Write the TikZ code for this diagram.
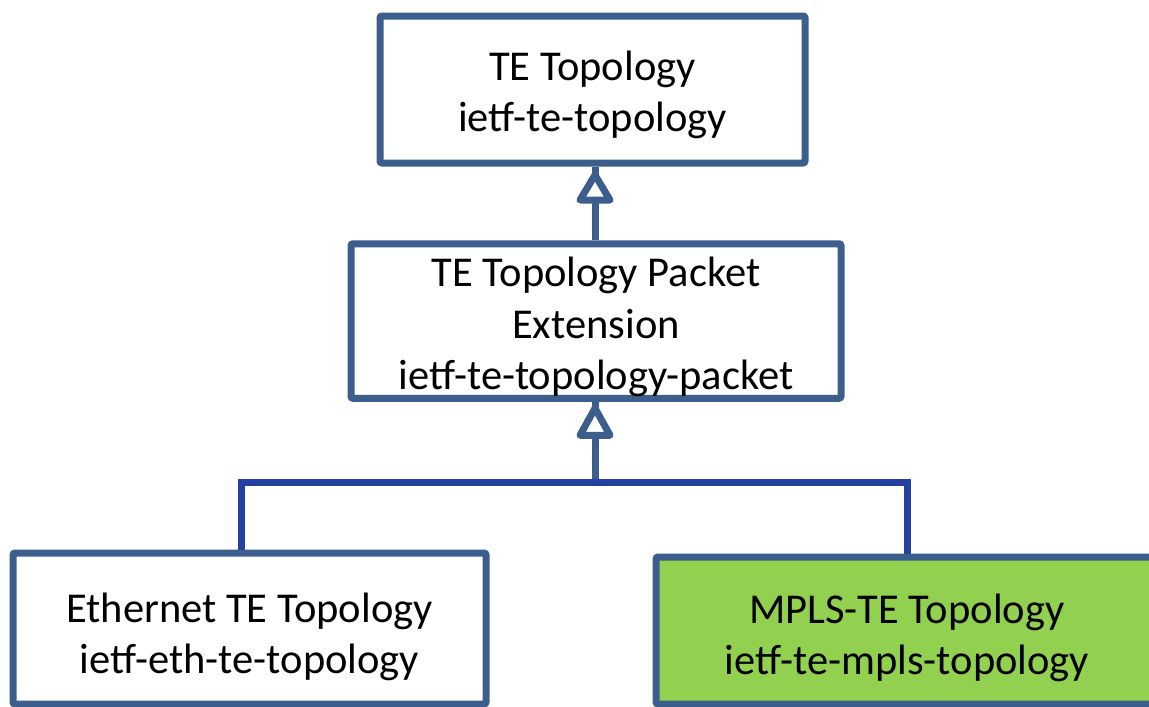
\documentclass[tikz,border=0pt]{standalone}
\usepackage{fontspec}
\setmainfont{Carlito}
\usetikzlibrary{calc,backgrounds}
\definecolor{boxline}{HTML}{3B5E8C}
\definecolor{busline}{HTML}{2440A0}
\definecolor{mplsgreen}{HTML}{92D050}
\tikzset{
  module/.style={draw=boxline, line width=7pt, rounded corners=2pt, fill=white,
    align=center, inner sep=0pt, font=\fontsize{42.5}{51.5}\selectfont},
  link/.style={draw=boxline, line width=7pt, line join=round},
  opentip/.style={link, fill=white},
  bus/.style={draw=busline, line width=7pt, line join=miter}
}
% centred text block, moved down by #1 without changing its reported size
\newcommand{\modtext}[2]{\raisebox{-#1}[\height][\depth]{\begin{tabular}{@{}c@{}}#2\end{tabular}}}
\begin{document}
\begin{tikzpicture}[x=1pt, y=-1pt]
  \useasboundingbox (0,0) rectangle (1149,707);

  % module boxes
  \node[module, minimum width=425pt, minimum height=147pt] (te) at (592.5,89.5)
    {\modtext{6pt}{TE Topology\\ietf-te-topology}};
  \node[module, minimum width=490pt, minimum height=152pt] (pkt) at (596,321)
    {\modtext{7pt}{TE Topology Packet\\Extension\\ietf-te-topology-packet}};
  \node[module, minimum width=473pt, minimum height=151pt] (eth) at (249.5,628.5)
    {\modtext{9pt}{Ethernet TE Topology\\ietf-eth-te-topology}};
  \node[module, fill=mplsgreen, minimum width=502pt, minimum height=147pt] (mpls) at (907,630.5)
    {\modtext{8pt}{MPLS-TE Topology\\ietf-te-mpls-topology}};

  % junction points of the shared bus
  \coordinate (jm) at (595,482);
  \coordinate (jl) at (241,482);
  \coordinate (jr) at (907,482);

  \begin{pgfonlayer}{background}
    % generalisation links with open triangle heads
    \draw[link] (pkt.north -| jm) -- (te.south -| jm);
    \draw[opentip] ($(te.south -| jm)+(0,8.5)$) -- ++(-15,25) -- ++(30,0) -- cycle;
    \draw[link] (jm) -- (pkt.south -| jm);
    \draw[opentip] ($(pkt.south -| jm)+(0,6.5)$) -- ++(-15,27) -- ++(30,0) -- cycle;
    % shared bus to the two derived modules
    \draw[bus] (eth.north -| jl) -- (jl) -- (jr) -- (mpls.north -| jr);
  \end{pgfonlayer}
\end{tikzpicture}
\end{document}
